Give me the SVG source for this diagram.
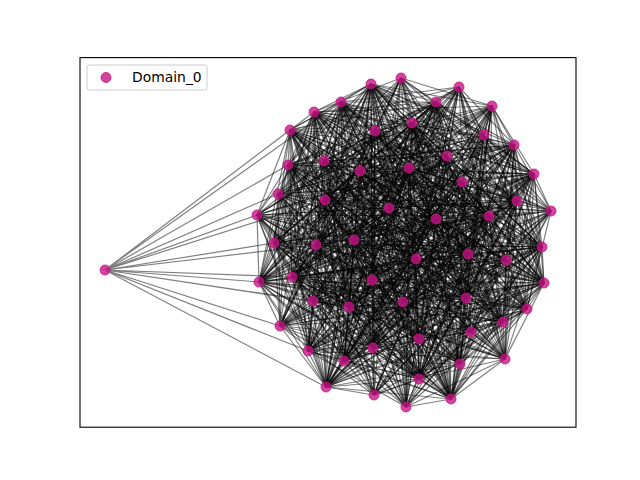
<svg xmlns="http://www.w3.org/2000/svg" width="640" height="480" viewBox="0 0 640 480">
<style>
.e{fill:none;stroke:#000;stroke-opacity:.5;stroke-width:1.2;stroke-linejoin:round}
.nd{fill:#c71585;fill-opacity:.8;stroke:#c71585;stroke-opacity:.8;stroke-width:1}
.lg{font-family:"DejaVu Sans","Liberation Sans",sans-serif;font-size:13.9px;fill:#000}
</style>
<rect width="640" height="480" fill="#fff"/>
<g id="connectors">
<path class="e" d="M105 270L341 102M105 270L314 112M105 270L290 130M105 270L288 165M105 270L278 194M105 270L325 200M105 270L257 215M105 270L316 245M105 270L274 243M105 270L259 282M105 270L292 277M105 270L313 301M105 270L280 326M105 270L308 351M105 270L326 387M105 270L349 307"/>
<path class="e" d="M401 78 372 280 374 395 462 182 551 211 484 135 278 194 419 339 280 326 436 219 492 106 360 171 460 364 316 245 314 112 466 298 527 309 375 131 274 243 344 361 534 174 325 200 326 387 468 254 371 84 419 379 544 283 409 168 288 165 349 307 451 399 489 216 436 102 292 277 259 282 412 123 542 247 503 322 341 102 354 240 308 351 517 201 514 145 373 348 290 130 416 259 505 359 324 161 257 215 403 302 406 407 447 156 459 87 389 208 506 260 313 301 471 332"/>
<path class="e" d="M401 78 374 395 551 211 278 194 280 326 492 106 460 364 314 112 527 309 274 243 534 174 326 387 371 84 544 283 288 165 451 399 436 102 259 282 542 247 341 102 308 351 514 145 290 130 505 359 257 215 406 407 459 87 506 260 471 332M372 280 462 182 484 135 419 339 436 219 360 171 316 245 466 298 375 131 344 361 325 200 468 254 419 379 409 168 349 307 489 216 292 277 412 123 503 322 354 240 517 201 373 348 416 259 324 161 403 302 447 156 389 208 313 301"/>
<path class="e" d="M401 78 462 182 278 194 436 219 460 364 466 298 274 243 325 200 371 84 409 168 451 399 292 277 542 247 354 240 514 145 416 259 257 215 447 156 506 260M372 280 551 211 419 339 492 106 316 245 527 309 344 361 326 387 419 379 288 165 489 216 259 282 503 322 308 351 373 348 505 359 403 302 459 87 313 301M374 395 484 135 280 326 360 171 314 112 375 131 534 174 468 254 544 283 349 307 436 102 412 123 341 102 517 201 290 130 324 161 406 407 389 208 471 332"/>
<path class="e" d="M401 78 551 211 280 326 460 364 527 309 534 174 371 84 288 165 436 102 542 247 308 351 290 130 257 215 459 87 471 332M372 280 484 135 436 219 316 245 375 131 325 200 419 379 349 307 292 277 503 322 517 201 416 259 403 302 389 208M374 395 278 194 492 106 314 112 274 243 326 387 544 283 451 399 259 282 341 102 514 145 505 359 406 407 506 260M462 182 419 339 360 171 466 298 344 361 468 254 409 168 489 216 412 123 354 240 373 348 324 161 447 156 313 301"/>
<path class="e" d="M401 78 484 135 492 106 466 298 534 174 419 379 451 399 412 123 308 351 416 259 406 407 313 301M372 280 278 194 360 171 527 309 325 200 544 283 489 216 542 247 517 201 505 359 447 156 471 332M374 395 419 339 460 364 375 131 326 387 409 168 436 102 503 322 514 145 324 161 459 87M462 182 280 326 316 245 274 243 468 254 288 165 292 277 341 102 373 348 257 215 389 208M551 211 436 219 314 112 344 361 371 84 349 307 259 282 354 240 290 130 403 302 506 260"/>
<path class="e" d="M401 78 278 194 460 364 274 243 371 84 451 399 542 247 514 145 257 215 506 260M372 280 419 339 316 245 344 361 419 379 489 216 503 322 373 348 403 302 313 301M374 395 280 326 314 112 534 174 544 283 436 102 341 102 290 130 406 407 471 332M462 182 436 219 466 298 325 200 409 168 292 277 354 240 416 259 447 156M551 211 492 106 527 309 326 387 288 165 259 282 308 351 505 359 459 87M484 135 360 171 375 131 468 254 349 307 412 123 517 201 324 161 389 208"/>
<path class="e" d="M401 78 419 339 314 112 325 200 288 165 412 123 514 145 403 302 471 332M372 280 280 326 466 298 326 387 349 307 542 247 373 348 406 407M374 395 436 219 527 309 468 254 451 399 503 322 290 130 447 156M462 182 492 106 375 131 371 84 489 216 341 102 416 259 459 87M551 211 360 171 274 243 419 379 436 102 354 240 505 359 389 208M484 135 460 364 344 361 544 283 292 277 308 351 324 161 506 260M278 194 316 245 534 174 409 168 259 282 517 201 257 215 313 301"/>
<path class="e" d="M401 78 280 326 527 309 371 84 436 102 308 351 257 215 471 332M372 280 436 219 375 131 419 379 292 277 517 201 403 302M374 395 492 106 274 243 544 283 259 282 514 145 406 407M462 182 360 171 344 361 409 168 412 123 373 348 447 156M551 211 460 364 534 174 288 165 542 247 290 130 459 87M484 135 316 245 325 200 349 307 503 322 416 259 389 208M278 194 314 112 326 387 451 399 341 102 505 359 506 260M419 339 466 298 468 254 489 216 354 240 324 161 313 301"/>
<path class="e" d="M401 78 436 219 274 243 409 168 542 247 416 259 506 260M372 280 492 106 344 361 288 165 503 322 505 359 313 301M374 395 360 171 534 174 349 307 341 102 324 161 471 332M462 182 460 364 325 200 451 399 354 240 257 215M551 211 316 245 326 387 489 216 308 351 403 302M484 135 314 112 468 254 436 102 517 201 406 407M278 194 466 298 371 84 292 277 514 145 447 156M419 339 527 309 419 379 259 282 373 348 459 87M280 326 375 131 544 283 412 123 290 130 389 208"/>
<path class="e" d="M401 78 492 106 534 174 451 399 308 351 406 407M372 280 360 171 325 200 489 216 517 201 447 156M374 395 460 364 326 387 436 102 514 145 459 87M462 182 316 245 468 254 292 277 373 348 389 208M551 211 314 112 371 84 259 282 290 130 506 260M484 135 466 298 419 379 412 123 416 259 313 301M278 194 527 309 544 283 542 247 505 359 471 332M419 339 375 131 409 168 503 322 324 161M280 326 274 243 288 165 341 102 257 215M436 219 344 361 349 307 354 240 403 302"/>
<path class="e" d="M401 78 360 171 326 387 292 277 290 130 313 301M372 280 460 364 468 254 259 282 416 259 471 332M374 395 316 245 371 84 412 123 505 359M462 182 314 112 419 379 542 247 324 161M551 211 466 298 544 283 503 322 257 215M484 135 527 309 409 168 341 102 403 302M278 194 375 131 288 165 354 240 406 407M419 339 274 243 349 307 308 351 447 156M280 326 344 361 451 399 517 201 459 87M436 219 534 174 489 216 514 145 389 208M492 106 325 200 436 102 373 348 506 260"/>
<path class="e" d="M401 78 460 364 371 84 542 247 257 215M372 280 316 245 419 379 503 322 403 302M374 395 314 112 544 283 341 102 406 407M462 182 466 298 409 168 354 240 447 156M551 211 527 309 288 165 308 351 459 87M484 135 375 131 349 307 517 201 389 208M278 194 274 243 451 399 514 145 506 260M419 339 344 361 489 216 373 348 313 301M280 326 534 174 436 102 290 130 471 332M436 219 325 200 292 277 416 259M492 106 326 387 259 282 505 359M360 171 468 254 412 123 324 161"/>
<path class="e" d="M401 78 316 245 544 283 354 240 459 87M372 280 314 112 409 168 308 351 389 208M374 395 466 298 288 165 517 201 506 260M462 182 527 309 349 307 514 145 313 301M551 211 375 131 451 399 373 348 471 332M484 135 274 243 489 216 290 130M278 194 344 361 436 102 416 259M419 339 534 174 292 277 505 359M280 326 325 200 259 282 324 161M436 219 326 387 412 123 257 215M492 106 468 254 542 247 403 302M360 171 371 84 503 322 406 407M460 364 419 379 341 102 447 156"/>
<path class="e" d="M401 78 314 112 288 165 514 145 471 332M372 280 466 298 349 307 373 348M374 395 527 309 451 399 290 130M462 182 375 131 489 216 416 259M551 211 274 243 436 102 505 359M484 135 344 361 292 277 324 161M278 194 534 174 259 282 257 215M419 339 325 200 412 123 403 302M280 326 326 387 542 247 406 407M436 219 468 254 503 322 447 156M492 106 371 84 341 102 459 87M360 171 419 379 354 240 389 208M460 364 544 283 308 351 506 260M316 245 409 168 517 201 313 301"/>
<path class="e" d="M401 78 466 298 451 399 416 259M372 280 527 309 489 216 505 359M374 395 375 131 436 102 324 161M462 182 274 243 292 277 257 215M551 211 344 361 259 282 403 302M484 135 534 174 412 123 406 407M278 194 325 200 542 247 447 156M419 339 326 387 503 322 459 87M280 326 468 254 341 102 389 208M436 219 371 84 354 240 506 260M492 106 419 379 308 351 313 301M360 171 544 283 517 201 471 332M460 364 409 168 514 145M316 245 288 165 373 348M314 112 349 307 290 130"/>
<path class="e" d="M401 78 527 309 436 102 257 215M372 280 375 131 292 277 403 302M374 395 274 243 259 282 406 407M462 182 344 361 412 123 447 156M551 211 534 174 542 247 459 87M484 135 325 200 503 322 389 208M278 194 326 387 341 102 506 260M419 339 468 254 354 240 313 301M280 326 371 84 308 351 471 332M436 219 419 379 517 201M492 106 544 283 514 145M360 171 409 168 373 348M460 364 288 165 290 130M316 245 349 307 416 259M314 112 451 399 505 359M466 298 489 216 324 161"/>
<path class="e" d="M401 78 375 131 259 282 447 156M372 280 274 243 412 123 459 87M374 395 344 361 542 247 389 208M462 182 534 174 503 322 506 260M551 211 325 200 341 102 313 301M484 135 326 387 354 240 471 332M278 194 468 254 308 351M419 339 371 84 517 201M280 326 419 379 514 145M436 219 544 283 373 348M492 106 409 168 290 130M360 171 288 165 416 259M460 364 349 307 505 359M316 245 451 399 324 161M314 112 489 216 257 215M466 298 436 102 403 302M527 309 292 277 406 407"/>
<path class="e" d="M401 78 274 243 542 247 506 260M372 280 344 361 503 322 313 301M374 395 534 174 341 102 471 332M462 182 325 200 354 240M551 211 326 387 308 351M484 135 468 254 517 201M278 194 371 84 514 145M419 339 419 379 373 348M280 326 544 283 290 130M436 219 409 168 416 259M492 106 288 165 505 359M360 171 349 307 324 161M460 364 451 399 257 215M316 245 489 216 403 302M314 112 436 102 406 407M466 298 292 277 447 156M527 309 259 282 459 87M375 131 412 123 389 208"/>
<path class="e" d="M401 78 344 361 341 102M372 280 534 174 354 240M374 395 325 200 308 351M462 182 326 387 517 201M551 211 468 254 514 145M484 135 371 84 373 348M278 194 419 379 290 130M419 339 544 283 416 259M280 326 409 168 505 359M436 219 288 165 324 161M492 106 349 307 257 215M360 171 451 399 403 302M460 364 489 216 406 407M316 245 436 102 447 156M314 112 292 277 459 87M466 298 259 282 389 208M527 309 412 123 506 260M375 131 542 247 313 301M274 243 503 322 471 332"/>
<path class="e" d="M401 78 534 174 308 351M372 280 325 200 517 201M374 395 326 387 514 145M462 182 468 254 373 348M551 211 371 84 290 130M484 135 419 379 416 259M278 194 544 283 505 359M419 339 409 168 324 161M280 326 288 165 257 215M436 219 349 307 403 302M492 106 451 399 406 407M360 171 489 216 447 156M460 364 436 102 459 87M316 245 292 277 389 208M314 112 259 282 506 260M466 298 412 123 313 301M527 309 542 247 471 332M375 131 503 322M274 243 341 102M344 361 354 240"/>
<path class="e" d="M401 78 325 200 514 145M372 280 326 387 373 348M374 395 468 254 290 130M462 182 371 84 416 259M551 211 419 379 505 359M484 135 544 283 324 161M278 194 409 168 257 215M419 339 288 165 403 302M280 326 349 307 406 407M436 219 451 399 447 156M492 106 489 216 459 87M360 171 436 102 389 208M460 364 292 277 506 260M316 245 259 282 313 301M314 112 412 123 471 332M466 298 542 247M527 309 503 322M375 131 341 102M274 243 354 240M344 361 308 351M534 174 517 201"/>
<path class="e" d="M401 78 468 254 505 359M372 280 371 84 324 161M374 395 419 379 257 215M462 182 544 283 403 302M551 211 409 168 406 407M484 135 288 165 447 156M278 194 349 307 459 87M419 339 451 399 389 208M280 326 489 216 506 260M436 219 436 102 313 301M492 106 292 277 471 332M360 171 259 282M460 364 412 123M316 245 542 247M314 112 503 322M466 298 341 102M527 309 354 240M375 131 308 351M274 243 517 201M344 361 514 145M534 174 373 348M325 200 290 130M326 387 416 259"/>
<path class="e" d="M401 78 544 283 459 87M372 280 409 168 389 208M374 395 288 165 506 260M462 182 349 307 313 301M551 211 451 399 471 332M484 135 489 216M278 194 436 102M419 339 292 277M280 326 259 282M436 219 412 123M492 106 542 247M360 171 503 322M460 364 341 102M316 245 354 240M314 112 308 351M466 298 517 201M527 309 514 145M375 131 373 348M274 243 290 130M344 361 416 259M534 174 505 359M325 200 324 161M326 387 257 215M468 254 403 302M371 84 406 407M419 379 447 156"/>
</g>
<rect x="80" y="57.6" width="496" height="369.6" fill="none" stroke="#000" stroke-width="1.1"/>
<g id="nodes">
<g id="n_left"><circle class="nd" cx="105" cy="270" r="5"/></g>
<g id="n0"><circle class="nd" cx="401" cy="78" r="5"/></g>
<g id="n1"><circle class="nd" cx="372" cy="280" r="5"/></g>
<g id="n2"><circle class="nd" cx="374" cy="395" r="5"/></g>
<g id="n3"><circle class="nd" cx="462" cy="182" r="5"/></g>
<g id="n4"><circle class="nd" cx="551" cy="211" r="5"/></g>
<g id="n5"><circle class="nd" cx="484" cy="135" r="5"/></g>
<g id="n6"><circle class="nd" cx="278" cy="194" r="5"/></g>
<g id="n7"><circle class="nd" cx="419" cy="339" r="5"/></g>
<g id="n8"><circle class="nd" cx="280" cy="326" r="5"/></g>
<g id="n9"><circle class="nd" cx="436" cy="219" r="5"/></g>
<g id="n10"><circle class="nd" cx="492" cy="106" r="5"/></g>
<g id="n11"><circle class="nd" cx="360" cy="171" r="5"/></g>
<g id="n12"><circle class="nd" cx="460" cy="364" r="5"/></g>
<g id="n13"><circle class="nd" cx="316" cy="245" r="5"/></g>
<g id="n14"><circle class="nd" cx="314" cy="112" r="5"/></g>
<g id="n15"><circle class="nd" cx="466" cy="298" r="5"/></g>
<g id="n16"><circle class="nd" cx="527" cy="309" r="5"/></g>
<g id="n17"><circle class="nd" cx="375" cy="131" r="5"/></g>
<g id="n18"><circle class="nd" cx="274" cy="243" r="5"/></g>
<g id="n19"><circle class="nd" cx="344" cy="361" r="5"/></g>
<g id="n20"><circle class="nd" cx="534" cy="174" r="5"/></g>
<g id="n21"><circle class="nd" cx="325" cy="200" r="5"/></g>
<g id="n22"><circle class="nd" cx="326" cy="387" r="5"/></g>
<g id="n23"><circle class="nd" cx="468" cy="254" r="5"/></g>
<g id="n24"><circle class="nd" cx="371" cy="84" r="5"/></g>
<g id="n25"><circle class="nd" cx="419" cy="379" r="5"/></g>
<g id="n26"><circle class="nd" cx="544" cy="283" r="5"/></g>
<g id="n27"><circle class="nd" cx="409" cy="168" r="5"/></g>
<g id="n28"><circle class="nd" cx="288" cy="165" r="5"/></g>
<g id="n29"><circle class="nd" cx="349" cy="307" r="5"/></g>
<g id="n30"><circle class="nd" cx="451" cy="399" r="5"/></g>
<g id="n31"><circle class="nd" cx="489" cy="216" r="5"/></g>
<g id="n32"><circle class="nd" cx="436" cy="102" r="5"/></g>
<g id="n33"><circle class="nd" cx="292" cy="277" r="5"/></g>
<g id="n34"><circle class="nd" cx="259" cy="282" r="5"/></g>
<g id="n35"><circle class="nd" cx="412" cy="123" r="5"/></g>
<g id="n36"><circle class="nd" cx="542" cy="247" r="5"/></g>
<g id="n37"><circle class="nd" cx="503" cy="322" r="5"/></g>
<g id="n38"><circle class="nd" cx="341" cy="102" r="5"/></g>
<g id="n39"><circle class="nd" cx="354" cy="240" r="5"/></g>
<g id="n40"><circle class="nd" cx="308" cy="351" r="5"/></g>
<g id="n41"><circle class="nd" cx="517" cy="201" r="5"/></g>
<g id="n42"><circle class="nd" cx="514" cy="145" r="5"/></g>
<g id="n43"><circle class="nd" cx="373" cy="348" r="5"/></g>
<g id="n44"><circle class="nd" cx="290" cy="130" r="5"/></g>
<g id="n45"><circle class="nd" cx="416" cy="259" r="5"/></g>
<g id="n46"><circle class="nd" cx="505" cy="359" r="5"/></g>
<g id="n47"><circle class="nd" cx="324" cy="161" r="5"/></g>
<g id="n48"><circle class="nd" cx="257" cy="215" r="5"/></g>
<g id="n49"><circle class="nd" cx="403" cy="302" r="5"/></g>
<g id="n50"><circle class="nd" cx="406" cy="407" r="5"/></g>
<g id="n51"><circle class="nd" cx="447" cy="156" r="5"/></g>
<g id="n52"><circle class="nd" cx="459" cy="87" r="5"/></g>
<g id="n53"><circle class="nd" cx="389" cy="208" r="5"/></g>
<g id="n54"><circle class="nd" cx="506" cy="260" r="5"/></g>
<g id="n55"><circle class="nd" cx="313" cy="301" r="5"/></g>
<g id="n56"><circle class="nd" cx="471" cy="332" r="5"/></g>
</g>
<g id="legend">
<rect x="87" y="65" width="120" height="25" rx="2.5" fill="#fff" fill-opacity=".8" stroke="#ccc" stroke-width="1"/>
<circle class="nd" cx="106" cy="77.5" r="5"/>
<text class="lg" x="132" y="82">Domain_0</text>
</g>
</svg>
